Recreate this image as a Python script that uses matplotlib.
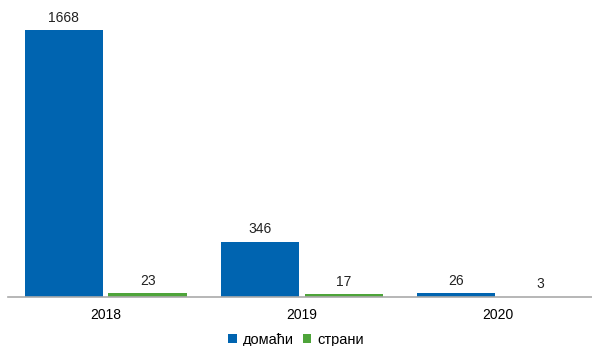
import matplotlib
matplotlib.use("Agg")
import matplotlib.pyplot as plt
import numpy as np

plt.rcParams['font.family'] = ['Liberation Sans', 'DejaVu Sans']

years = ['2018', '2019', '2020']
domestic = [1668, 346, 26]
foreign = [23, 17, 3]
series_names = ['домаћи', 'страни']

blue = '#0064B0'
green = '#4EA43A'

fig = plt.figure(figsize=(5.92, 3.46), dpi=100)
ax = fig.add_axes([0.013, 0.1416, 0.987, 0.83])

x = np.arange(len(years))
w = 0.4
off = 0.214
b1 = ax.bar(x - off, domestic, w, color=blue, label=series_names[0])
b2 = ax.bar(x + off, foreign, w, color=green, label=series_names[1])

for bars in (b1, b2):
    for r in bars:
        ax.text(r.get_x() + r.get_width() / 2, r.get_height() + 32,
                str(int(r.get_height())), ha='center', va='bottom',
                fontsize=10, color='#222222')

ax.set_xlim(-0.5, 2.48)
ax.set_ylim(0, 1793)
ax.set_xticks(x)
ax.set_xticklabels(years, fontsize=10)
ax.tick_params(axis='x', length=0, pad=8)
ax.set_yticks([])
for s in ('top', 'right', 'left'):
    ax.spines[s].set_visible(False)
ax.spines['bottom'].set_color('#aaaaaa')
ax.spines['bottom'].set_linewidth(1.2)

handles, labels = ax.get_legend_handles_labels()
fig.legend(handles, labels, loc='center', bbox_to_anchor=(0.5, 0.018), ncol=2,
           frameon=False, fontsize=10.5, handlelength=0.6, handleheight=0.6,
           handletextpad=0.4, columnspacing=0.6, borderpad=0)

fig.savefig('out.png', dpi=100)
